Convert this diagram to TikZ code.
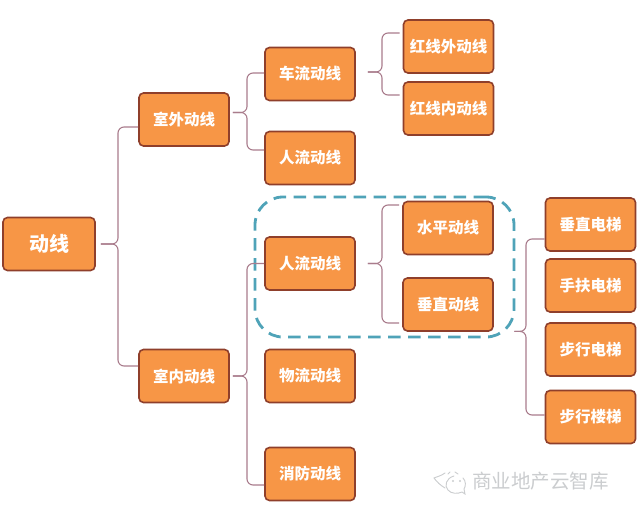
\documentclass[tikz,border=0pt]{standalone}
\usepackage{fontspec}
\newfontfamily\cjk{Noto Sans CJK SC}
\usetikzlibrary{calc}
\definecolor{boxfill}{HTML}{F79646}
\definecolor{boxedge}{HTML}{8F3F2B}
\definecolor{conncol}{HTML}{A97C8C}
\definecolor{dashcol}{HTML}{4FA3B8}
\definecolor{markcol}{HTML}{CBCDCF}
\tikzset{
  topic/.style={draw=boxedge,fill=boxfill,line width=1.6pt,rounded corners=4.5pt,text=white,
    font=\cjk\bfseries\fontsize{15.5}{15.5}\selectfont,inner sep=0pt,minimum width=90pt,minimum height=53pt},
  roottopic/.style={topic,minimum width=92pt,font=\cjk\bfseries\fontsize{20}{20}\selectfont},
  conn/.style={draw=conncol,line width=1.1pt,rounded corners=6pt},
  dashbox/.style={draw=dashcol,line width=2.8pt,rounded corners=28pt,dash pattern=on 12.5pt off 7.5pt,
    minimum width=259pt,minimum height=140pt,inner sep=0pt},
  markline/.style={draw=markcol,line width=0.9pt,line cap=round},
  marktext/.style={text=markcol,font=\cjk\fontsize{19.5}{19.5}\selectfont,inner sep=0pt}
}
\newcommand{\brk}[3]{\coordinate (brkend) at (#3);\draw[conn] (#1) -- (#1 -| #2) -- (#2 |- brkend) -- (brkend);}
\begin{document}
\begin{tikzpicture}[x=1pt,y=-1pt]
\useasboundingbox (0,0) rectangle (640,514);
\fill[white] (0,0) rectangle (640,514);
\node[dashbox] (focus) at (384.5,267) {};
\node[roottopic] (root) at (49,244) {动线};
\node[topic] (outdoor) at (184,119.5) {室外动线};
\node[topic] (indoor) at (184,376) {室内动线};
\node[topic] (car) at (310,74) {车流动线};
\node[topic] (walkout) at (310,158) {人流动线};
\node[topic] (walkin) at (310,263.5) {人流动线};
\node[topic] (goods) at (310,376) {物流动线};
\node[topic] (fire) at (310,474) {消防动线};
\node[topic] (redout) at (448.5,46.5) {红线外动线};
\node[topic] (redin) at (448.5,108.5) {红线内动线};
\node[topic] (level) at (448,228) {水平动线};
\node[topic] (vert) at (448,304.5) {垂直动线};
\node[topic] (lift) at (590.5,224.5) {垂直电梯};
\node[topic] (escal) at (590.5,285.5) {手扶电梯};
\node[topic] (walklift) at (590.5,349.5) {步行电梯};
\node[topic] (stairs) at (590.5,417) {步行楼梯};
% trunks and bracket starts
\coordinate (t1) at (118,0);
\coordinate (t2) at (247,0);
\coordinate (t3) at (382,0);
\coordinate (t4) at (526,0);
\coordinate (s1) at ([xshift=5pt]root.east);
\coordinate (s2) at ([xshift=3pt,yshift=7pt]outdoor.east);
\coordinate (s3) at ([xshift=3pt]indoor.east);
\coordinate (s4) at ([xshift=12pt,yshift=2pt]car.east);
\coordinate (s5) at ([xshift=12pt]walkin.east);
\coordinate (s6) at ([xshift=-1pt,yshift=7pt]focus.south east);
\brk{s1}{t1}{[yshift=-7.5pt]outdoor.west}
\brk{s1}{t1}{[yshift=10pt]indoor.west}
\brk{s2}{t2}{[yshift=1pt]car.west}
\brk{s2}{t2}{[yshift=8pt]walkout.west}
\brk{s3}{t2}{walkin.west}
\brk{s3}{t2}{[yshift=-11pt]fire.west}
\brk{s4}{t3}{[xshift=-3pt,yshift=13.5pt]redout.west}
\brk{s4}{t3}{[xshift=-3pt,yshift=13.5pt]redin.west}
\brk{s5}{t3}{[xshift=-3pt,yshift=23pt]level.west}
\brk{s5}{t3}{[xshift=-3pt,yshift=-18.5pt]vert.west}
\brk{s6}{t4}{[yshift=-14.5pt]lift.west}
\brk{s6}{t4}{[yshift=2pt]stairs.west}
% watermark
\node[marktext,anchor=west] (mark) at (472,481) {商业地产云智库};
\draw[markline] (454,476) .. controls (446,478) and (444,486) .. (448,490) .. controls (451,494) and (458,494) .. (462,492) -- (465,494) -- (464,489) .. controls (466,486) and (466,481) .. (463,478);
\draw[markline] (445,473) .. controls (441,476) and (436,477) .. (434,478) .. controls (437,482) and (440,485) .. (445,488);
\draw[markline] (448,474) -- (450,472) (455,472) -- (458,474);
\fill[markcol] (453,481) circle (1.1pt) (460,481) circle (1.1pt);
\end{tikzpicture}
\end{document}
